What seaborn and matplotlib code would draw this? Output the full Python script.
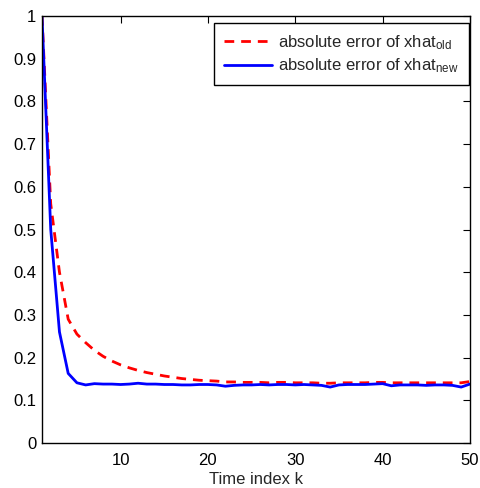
import numpy as np
import pandas as pd
import matplotlib
matplotlib.use("Agg")
import matplotlib.pyplot as plt
import seaborn as sns

# ---- data ----
k = list(range(1, 51))
err_old = [1.000, 0.560, 0.400, 0.290, 0.255, 0.235, 0.217, 0.203, 0.192, 0.183,
           0.176, 0.170, 0.165, 0.161, 0.157, 0.154, 0.151, 0.149, 0.147, 0.146,
           0.145, 0.143, 0.143, 0.142, 0.142, 0.142, 0.141, 0.142, 0.142, 0.141,
           0.141, 0.141, 0.140, 0.140, 0.141, 0.141, 0.141, 0.141, 0.142, 0.142,
           0.141, 0.141, 0.141, 0.141, 0.141, 0.141, 0.141, 0.141, 0.141, 0.144]
err_new = [1.000, 0.500, 0.260, 0.163, 0.141, 0.136, 0.139, 0.138, 0.138, 0.137,
           0.138, 0.140, 0.138, 0.138, 0.137, 0.137, 0.136, 0.136, 0.137, 0.137,
           0.136, 0.133, 0.135, 0.136, 0.136, 0.137, 0.136, 0.137, 0.137, 0.136,
           0.137, 0.136, 0.135, 0.131, 0.136, 0.137, 0.137, 0.137, 0.138, 0.139,
           0.134, 0.136, 0.136, 0.136, 0.135, 0.136, 0.136, 0.135, 0.131, 0.138]
label_old = r"absolute error of xhat$_{\mathrm{old}}$"
label_new = r"absolute error of xhat$_{\mathrm{new}}$"
xticks = [10, 20, 30, 40, 50]
yticks = [0, 0.1, 0.2, 0.3, 0.4, 0.5, 0.6, 0.7, 0.8, 0.9, 1]
ytick_labels = ["0", "0.1", "0.2", "0.3", "0.4", "0.5", "0.6", "0.7", "0.8", "0.9", "1"]
xlabel = "Time index k"

sns.set_style("white")
plt.rcParams["font.family"] = ["Liberation Sans", "DejaVu Sans"]
plt.rcParams["mathtext.fontset"] = "custom"
plt.rcParams["mathtext.rm"] = "Liberation Sans"
plt.rcParams["mathtext.it"] = "Liberation Sans:italic"

fig = plt.figure(figsize=(4.8, 4.88), dpi=100)
ax = fig.add_axes([0.0875, 0.0922, 0.8915, 0.875])

df_old = pd.DataFrame({"k": k, "err": err_old})
df_new = pd.DataFrame({"k": k, "err": err_new})

sns.lineplot(data=df_old, x="k", y="err", ax=ax, color="#ff0000", lw=2,
             linestyle=(0, (3.5, 2.5)), label=label_old)
sns.lineplot(data=df_new, x="k", y="err", ax=ax, color="#0000ff", lw=2,
             label=label_new)

ax.set_xlim(1, 50)
ax.set_ylim(0, 1)
ax.set_xticks(xticks)
ax.set_yticks(yticks)
ax.set_yticklabels(ytick_labels)
ax.set_xlabel(xlabel, fontsize=12, labelpad=3)
ax.set_ylabel("")
ax.tick_params(direction="in", length=5, width=0.8, top=True, right=True,
               labelsize=12, colors="black", pad=4)
ax.tick_params(axis="x", pad=7)
for s in ax.spines.values():
    s.set_visible(True)
    s.set_color("black")
    s.set_linewidth(1.0)

leg = ax.legend(loc="upper right", bbox_to_anchor=(0.998, 0.984), fontsize=12,
                frameon=True, fancybox=False,
                edgecolor="black", framealpha=1, borderaxespad=0.0,
                handlelength=2.9, handletextpad=0.36, labelspacing=0.3,
                borderpad=0.6)
leg.get_frame().set_linewidth(1.0)

fig.savefig("out.png", dpi=100)
